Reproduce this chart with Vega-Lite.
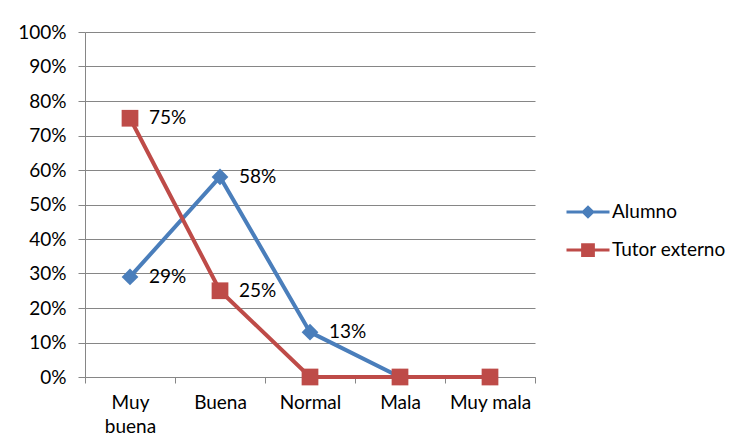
{
  "$schema": "https://vega.github.io/schema/vega-lite/v6.json",
  "width": 450,
  "height": 345,
  "autosize": "none",
  "padding": {"left": 85, "top": 32, "right": 202, "bottom": 71},
  "background": "white",
  "config": {
    "view": {"stroke": null},
    "font": "Lato",
    "axis": {"labelFont": "Lato", "labelFontSize": 19, "labelColor": "#000000", "domainColor": "#868686", "tickColor": "#868686", "gridColor": "#868686", "gridOpacity": 1, "domainWidth": 1, "tickWidth": 1, "gridWidth": 1}
  },
  "data": {
    "values": [
      {"cat": "Muy buena", "serie": "Alumno", "value": 0.29, "label": "29%"},
      {"cat": "Buena", "serie": "Alumno", "value": 0.58, "label": "58%"},
      {"cat": "Normal", "serie": "Alumno", "value": 0.13, "label": "13%"},
      {"cat": "Mala", "serie": "Alumno", "value": 0, "label": ""},
      {"cat": "Muy mala", "serie": "Alumno", "value": 0, "label": ""},
      {"cat": "Muy buena", "serie": "Tutor externo", "value": 0.75, "label": "75%"},
      {"cat": "Buena", "serie": "Tutor externo", "value": 0.25, "label": "25%"},
      {"cat": "Normal", "serie": "Tutor externo", "value": 0, "label": ""},
      {"cat": "Mala", "serie": "Tutor externo", "value": 0, "label": ""},
      {"cat": "Muy mala", "serie": "Tutor externo", "value": 0, "label": ""}
    ]
  },
  "encoding": {
    "x": {
      "field": "cat", "type": "nominal",
      "sort": ["Muy buena", "Buena", "Normal", "Mala", "Muy mala"],
      "scale": {"type": "band", "paddingInner": 0, "paddingOuter": 0},
      "axis": {"title": null, "labelAngle": 0, "tickBand": "extent", "tickSize": 6, "labelPadding": 10, "grid": false, "labelLineHeight": 24, "labelBaseline": "top",
        "labelExpr": "datum.label == 'Muy buena' ? ['Muy', 'buena'] : datum.label"}
    },
    "y": {
      "field": "value", "type": "quantitative",
      "scale": {"domain": [0, 1], "nice": false},
      "axis": {"title": null, "format": ".0%", "values": [0, 0.1, 0.2, 0.3, 0.4, 0.5, 0.6, 0.7, 0.8, 0.9, 1], "tickSize": 7, "labelPadding": 12, "grid": true}
    }
  },
  "layer": [
    {
      "mark": {"type": "line", "strokeWidth": 4},
      "encoding": {
        "color": {
          "field": "serie", "type": "nominal",
          "scale": {"domain": ["Alumno", "Tutor externo"], "range": ["#4A7EBB", "#BE4B48"]},
          "legend": {
            "title": null, "orient": "none", "legendX": 480, "legendY": 157,
            "labelFont": "Lato", "labelFontSize": 19, "labelColor": "#000000",
            "labelOffset": 1, "rowPadding": 4, "symbolSize": 1849, "symbolStrokeWidth": 3,
            "encode": {
              "symbols": {
                "update": {
                  "fill": {"scale": "color", "field": "value"},
                  "stroke": {"scale": "color", "field": "value"},
                  "strokeWidth": {"value": 3},
                  "opacity": {"value": 1},
                  "shape": [
                    {"test": "datum.value === 'Alumno'", "value": "M-1,0L1,0M-0.22,0L0,-0.22L0.22,0L0,0.22Z"},
                    {"value": "M-1,0L1,0M-0.25,-0.25L0.25,-0.25L0.25,0.25L-0.25,0.25Z"}
                  ]
                }
              }
            }
          }
        }
      }
    },
    {
      "mark": {"type": "point", "filled": true, "opacity": 1, "size": 280},
      "encoding": {
        "color": {"field": "serie", "type": "nominal", "legend": null},
        "shape": {"condition": {"test": "datum.serie === 'Alumno'", "value": "diamond"}, "value": "square"}
      }
    },
    {
      "transform": [{"filter": "datum.value > 0"}],
      "mark": {"type": "text", "align": "left", "baseline": "middle", "dx": 19, "font": "Lato", "fontSize": 19, "color": "#000000"},
      "encoding": {"text": {"field": "label"}}
    }
  ]
}
